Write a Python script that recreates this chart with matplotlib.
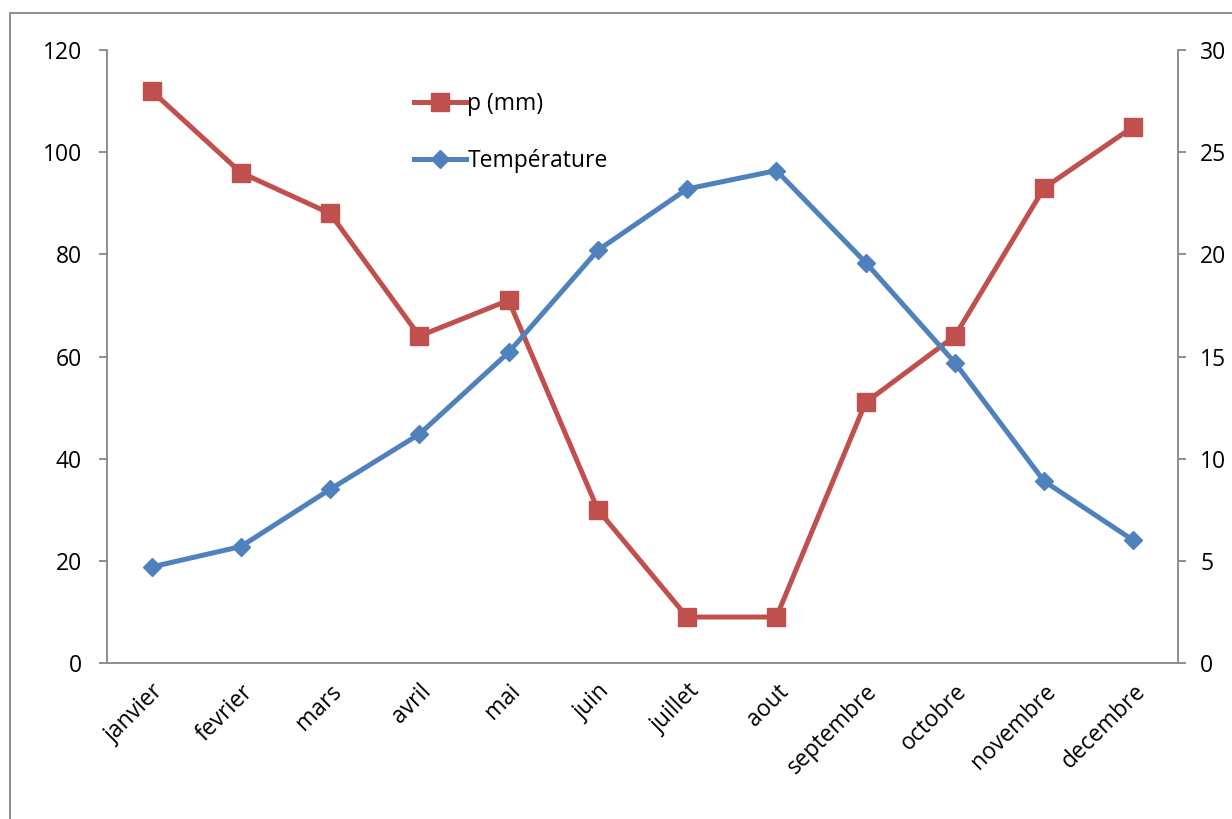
import matplotlib.pyplot as plt
from matplotlib.patches import Rectangle

mois = ['janvier', 'fevrier', 'mars', 'avril', 'mai', 'juin', 'juillet',
        'aout', 'septembre', 'octobre', 'novembre', 'decembre']
pluie = [112, 96, 88, 64, 71, 30, 9, 9, 51, 64, 93, 105]
temperature = [4.7, 5.7, 8.5, 11.2, 15.2, 20.2, 23.2, 24.1, 19.6, 14.7, 8.9, 6.0]

plt.rcParams['font.family'] = ['Open Sans', 'DejaVu Sans']
plt.rcParams['font.size'] = 16.5

rouge = '#C0504D'
bleu = '#4F81BD'
gris = '#868686'

fig = plt.figure(figsize=(12.32, 8.19), dpi=100)
ax = fig.add_axes([107/1232, 1 - 663/819, (1178-107)/1232, (663-50)/819])
ax2 = ax.twinx()

x = range(len(mois))
l1, = ax.plot(x, pluie, color=rouge, lw=3.6, marker='s', markersize=13.5, label='p (mm)')
l2, = ax2.plot(x, temperature, color=bleu, lw=3.6, marker='D', markersize=9, label='Température')

ax.set_xlim(-0.5, len(mois) - 0.5)
ax.set_ylim(0, 120)
ax2.set_ylim(0, 30)
ax.set_yticks(range(0, 121, 20))
ax2.set_yticks(range(0, 31, 5))
ax.set_xticks(list(x))
ax.set_xticklabels(mois, rotation=45, ha='right', rotation_mode='anchor')

for a in (ax, ax2):
    for s in a.spines.values():
        s.set_color(gris)
        s.set_linewidth(1.3)
    a.spines['top'].set_visible(False)
    a.tick_params(colors=gris, labelcolor='black', length=6, width=1.3, pad=12)
ax.tick_params(axis='x', length=0, pad=12)
ax2.tick_params(axis='y', pad=10)
ax.spines['right'].set_visible(False)
ax2.spines['left'].set_visible(False)
ax2.spines['bottom'].set_visible(False)

leg = ax.legend([l1, l2], ['p (mm)', 'Température'], loc='upper left',
                bbox_to_anchor=(393/1232, 1 - 71/819), bbox_transform=fig.transFigure,
                frameon=False, labelspacing=1.45, handlelength=2.3, handletextpad=0.05,
                fontsize=16.5)

fig.patches.append(Rectangle((10/1232, -0.1), 1.2, 1 - 13/819 + 0.1,
                             transform=fig.transFigure, fill=False,
                             edgecolor=gris, lw=1.3))

fig.savefig('out.png', dpi=100)
